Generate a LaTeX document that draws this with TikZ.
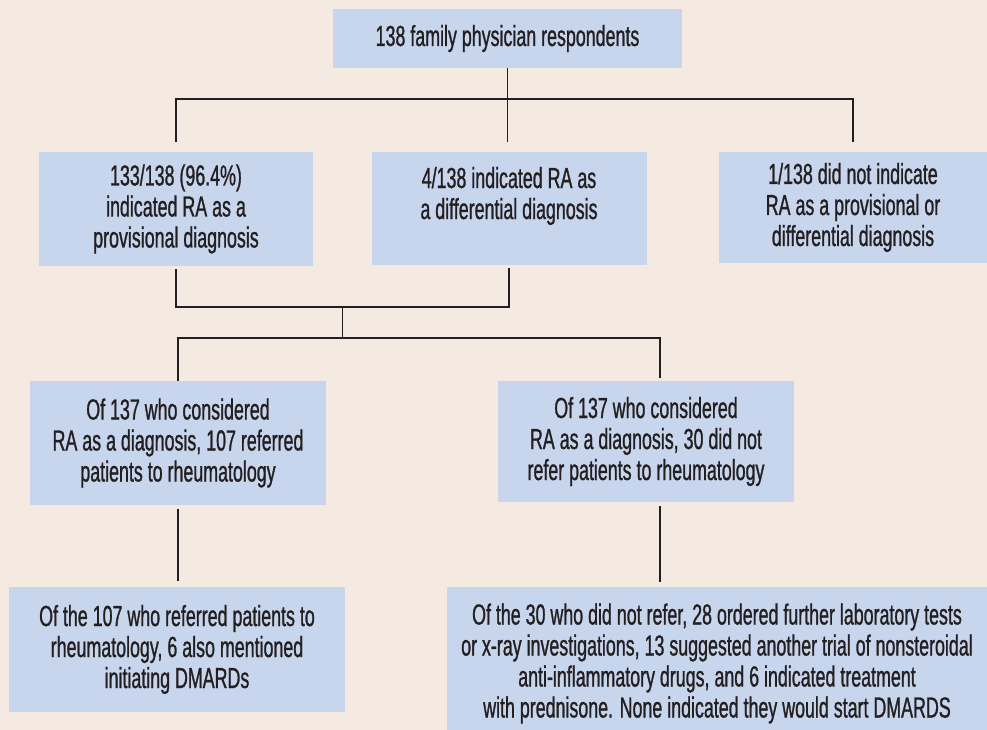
\documentclass[tikz,border=0pt]{standalone}
\usepackage{fontspec}
\setmainfont[FakeStretch=0.615,FakeBold=0.9]{Liberation Sans}
\usetikzlibrary{calc}
\definecolor{bgbeige}{RGB}{245,234,225}
\definecolor{boxblue}{RGB}{199,213,237}
\definecolor{inkdark}{RGB}{35,31,32}
\begin{document}
\begin{tikzpicture}[x=1pt,y=-1pt,
  box/.style={fill=boxblue, inner sep=0pt, align=center, text=inkdark,
    font=\fontsize{29}{31}\selectfont},
  conn/.style={draw=inkdark, line width=1.5pt}]
\useasboundingbox (0,0) rectangle (987,730);
\fill[bgbeige] (0,0) rectangle (987,730);
\clip (0,0) rectangle (987,730);

% boxes
\node[box, minimum width=349pt, minimum height=59pt] (top) at (507.5,38.5)
  {138 family physician respondents};
\node[box, minimum width=274pt, minimum height=114pt] (L1) at (176,209)
  {133/138 (96.4\%)\\indicated RA as a\\provisional diagnosis};
\node[box, minimum width=275pt, minimum height=113pt] (M1) at (509,208.5)
  {4/138 indicated RA as\\a differential diagnosis\\\mbox{}};
\node[box, minimum width=269pt, minimum height=111pt] (R1) at (853,207.5)
  {1/138 did not indicate\\RA as a provisional or\\differential diagnosis};
\node[box, minimum width=296pt, minimum height=124pt] (L2) at (178,443)
  {Of 137 who considered\\RA as a diagnosis, 107 referred\\patients to rheumatology};
\node[box, minimum width=296pt, minimum height=121pt] (M2) at (646,441.5)
  {Of 137 who considered\\RA as a diagnosis, 30 did not\\refer patients to rheumatology};
\node[box, minimum width=336pt, minimum height=125pt] (L3) at (177,649.5)
  {Of the 107 who referred patients to\\rheumatology, 6 also mentioned\\initiating DMARDs};
\node[box, minimum width=540pt, minimum height=153pt] (R3) at (717,663.5)
  {Of the 30 who did not refer, 28 ordered further laboratory tests\\
   or x-ray investigations, 13 suggested another trial of nonsteroidal\\
   anti-inflammatory drugs, and 6 indicated treatment\\
   with prednisone. None indicated they would start DMARDS};

% helper coordinates
\coordinate (bar1) at (0,99);
\coordinate (bar2) at (0,307);
\coordinate (bar3) at (0,338);
\path ([yshift=10pt]L1.north) coordinate (l1n)
      ([yshift=10pt]R1.north) coordinate (r1n)
      ([yshift=10pt]M1.north) coordinate (m1n)
      ([yshift=-3pt]L1.south) coordinate (l1s)
      ([yshift=-3pt]M1.south) coordinate (m1s)
      ([shift={(14pt,3pt)}]M2.north) coordinate (m2n)
      ([shift={(14pt,-4pt)}]M2.south) coordinate (m2s)
      ([yshift=-4pt]L2.south) coordinate (l2s)
      ([yshift=6pt]L3.north) coordinate (l3n)
      ([yshift=5pt]R3.north) coordinate (r3n);

% connectors
\draw[conn] (top.south) -- (top.south |- m1n);
\draw[conn] (l1n) -- (l1n |- bar1) -- (r1n |- bar1) -- (r1n);
\draw[conn] (l1s) -- (l1s |- bar2) -- (m1s |- bar2) -- (m1s);
\coordinate (mid2) at ($(l1s |- bar2)!0.5!(m1s |- bar2)$);
\draw[conn] (mid2) -- (mid2 |- bar3);
\draw[conn] (L2.north) -- (L2.north |- bar3) -- (m2n |- bar3) -- (m2n);
\draw[conn] (l2s) -- (l2s |- l3n);
\draw[conn] (m2s) -- (m2s |- r3n);
\end{tikzpicture}
\end{document}
